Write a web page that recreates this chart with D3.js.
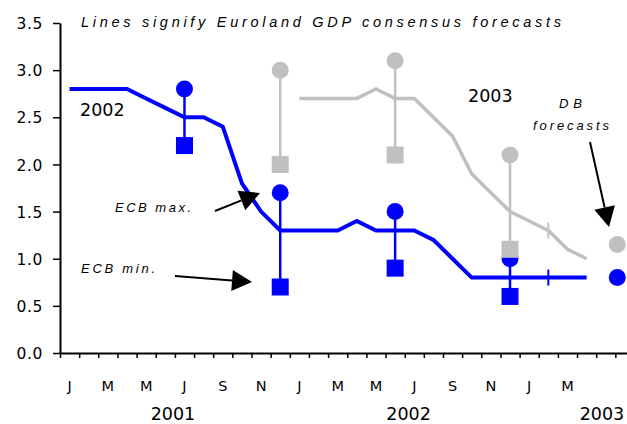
<!DOCTYPE html>
<html>
<head>
<meta charset="utf-8">
<script src="https://cdn.jsdelivr.net/npm/d3@7"></script>
<style>
  body { margin: 0; background: #fff; }
  text { font-family: "DejaVu Sans", Verdana, sans-serif; fill: #000; }
  .note { font-family: "Liberation Sans", Arial, sans-serif; font-style: italic; }
</style>
</head>
<body>
<svg id="chart" width="627" height="424"></svg>
<script>
// month index 0 = Jan 2001, values placed at month centres
var monthLetters = ["J", "M", "M", "J", "S", "N", "J", "M", "M", "J", "S", "N", "J", "M"];
var yearLabels = ["2001", "2002", "2003"];
var yearPos = [5.9, 18.2, 28.3];

// consensus forecasts for 2002 GDP, Jan 2001 .. Apr 2003
var cons2002 = [2.8, 2.8, 2.8, 2.8, 2.7, 2.6, 2.5, 2.5, 2.4, 1.8, 1.5, 1.3,
                1.3, 1.3, 1.3, 1.4, 1.3, 1.3, 1.3, 1.2, 1.0, 0.8, 0.8, 0.8,
                0.8, 0.8, 0.8, 0.8];
// consensus forecasts for 2003 GDP, Jan 2002 .. Apr 2003
var cons2003 = [2.7, 2.7, 2.7, 2.7, 2.8, 2.7, 2.7, 2.5, 2.3, 1.9, 1.7, 1.5,
                1.4, 1.3, 1.1, 1.0];
var cons2003Start = 12;

// ECB projection ranges
var ecbMonth = [6.5, 11.5, 17.5, 23.5];
var ecbMax2002 = [2.8, 1.7, 1.5, 1.0];
var ecbMin2002 = [2.2, 0.7, 0.9, 0.6];
var ecbMax2003 = [null, 3.0, 3.1, 2.1];
var ecbMin2003 = [null, 2.0, 2.1, 1.1];

// DB forecasts
var dbMonth = 29.1;
var db2002 = 0.8, db2003 = 1.15;
var markMonth = 25.5;

var blue = "#0000ff", grey = "#c0c0c0";

var svg = d3.select("#chart");

var x = d3.scaleLinear().domain([0, 30]).range([60, 634.5]),
    y = d3.scaleLinear().domain([0, 3.5]).range([353, 23]);

// axes
var yAxis = svg.append("g")
    .attr("transform", "translate(60,0)")
    .call(d3.axisLeft(y).tickValues(d3.range(0, 3.51, 0.5)).tickFormat(d3.format(".1f"))
      .tickSize(7).tickSizeOuter(0).tickPadding(10));
yAxis.select(".domain").attr("stroke-width", 2);
yAxis.selectAll(".tick line").attr("stroke-width", 1.5);
yAxis.selectAll(".tick text").style("font-size", "15.5px").attr("letter-spacing", 0.6)
    .attr("font-family", null).attr("dy", "0.36em");

var xAxis = svg.append("g")
    .attr("transform", "translate(0,353)")
    .call(d3.axisBottom(x).tickValues(d3.range(0, 31)).tickFormat("").tickSize(5).tickSizeOuter(0));
xAxis.select(".domain").attr("stroke-width", 2);
xAxis.selectAll(".tick line").attr("stroke-width", 1.5);

svg.selectAll(".mlabel")
    .data(monthLetters)
  .enter().append("text")
    .attr("class", "mlabel")
    .attr("x", function(d, i) { return x(i * 2 + 0.5); })
    .attr("y", 391)
    .attr("text-anchor", "middle")
    .style("font-size", "14.5px")
    .text(function(d) { return d; });

svg.selectAll(".ylabel")
    .data(yearLabels)
  .enter().append("text")
    .attr("class", "ylabel")
    .attr("x", function(d, i) { return x(yearPos[i]); })
    .attr("y", 420)
    .attr("text-anchor", "middle")
    .style("font-size", "17.5px")
    .text(function(d) { return d; });

// forecast lines
var line = d3.line()
    .x(function(d) { return x(d[0] + 0.5); })
    .y(function(d) { return y(d[1]); });

svg.append("path")
    .datum(cons2003.map(function(v, i) { return [cons2003Start + i, v]; }))
    .attr("d", line)
    .attr("fill", "none").attr("stroke", grey).attr("stroke-width", 3.5);

svg.append("path")
    .datum(cons2002.map(function(v, i) { return [i, v]; }))
    .attr("d", line)
    .attr("fill", "none").attr("stroke", blue).attr("stroke-width", 4);

// small marks on both lines
[[cons2002[markMonth - 0.5], blue], [cons2003[markMonth - 0.5 - cons2003Start], grey]].forEach(function(m) {
  svg.append("line")
      .attr("x1", x(markMonth)).attr("x2", x(markMonth))
      .attr("y1", y(m[0]) - 8).attr("y2", y(m[0]) + 8)
      .attr("stroke", m[1]).attr("stroke-width", 2);
});

// ECB ranges
function ranges(maxs, mins, col) {
  ecbMonth.forEach(function(m, i) {
    if (maxs[i] == null) return;
    var cx = x(m);
    svg.append("line")
        .attr("x1", cx).attr("x2", cx)
        .attr("y1", y(maxs[i])).attr("y2", y(mins[i]))
        .attr("stroke", col).attr("stroke-width", 2.5);
    svg.append("circle")
        .attr("cx", cx).attr("cy", y(maxs[i])).attr("r", 8.5)
        .attr("fill", col);
    svg.append("rect")
        .attr("x", cx - 8.5).attr("y", y(mins[i]) - 8.5)
        .attr("width", 17).attr("height", 17)
        .attr("fill", col);
  });
}
ranges(ecbMax2002, ecbMin2002, blue);
ranges(ecbMax2003, ecbMin2003, grey);

svg.append("circle").attr("cx", x(dbMonth)).attr("cy", y(db2003)).attr("r", 8.5).attr("fill", grey);
svg.append("circle").attr("cx", x(dbMonth)).attr("cy", y(db2002)).attr("r", 8.5).attr("fill", blue);

// text
svg.append("text").attr("class", "note")
    .attr("x", 81).attr("y", 27)
    .attr("textLength", 480).attr("lengthAdjust", "spacing")
    .style("font-size", "14.5px")
    .text("Lines signify Euroland GDP consensus forecasts");

svg.append("text").attr("x", 80).attr("y", 116).style("font-size", "17.5px").text("2002");
svg.append("text").attr("x", 468).attr("y", 102).style("font-size", "17.5px").text("2003");

function note(t, x0, y0, w) {
  svg.append("text").attr("class", "note")
      .attr("x", x0).attr("y", y0)
      .attr("textLength", w).attr("lengthAdjust", "spacing")
      .style("font-size", "13px")
      .text(t);
}
note("ECB max.", 115, 212, 76);
note("ECB min.", 81, 273, 74);
note("D B", 559, 108, 23);
note("forecasts", 533, 130, 76);

// arrows
function arrow(x1, y1, x2, y2) {
  var a = Math.atan2(y2 - y1, x2 - x1), len = 20, hw = 10.5;
  var bx = x2 - len * Math.cos(a), by = y2 - len * Math.sin(a);
  svg.append("line")
      .attr("x1", x1).attr("y1", y1).attr("x2", bx).attr("y2", by)
      .attr("stroke", "#000").attr("stroke-width", 2);
  svg.append("path")
      .attr("d", "M" + x2 + "," + y2 +
        "L" + (bx + hw * Math.sin(a)) + "," + (by - hw * Math.cos(a)) +
        "L" + (bx - hw * Math.sin(a)) + "," + (by + hw * Math.cos(a)) + "Z")
      .attr("fill", "#000");
}
arrow(215, 211, 260, 193);
arrow(175, 276, 252, 282);
arrow(590, 142, 609, 227);
</script>
</body>
</html>
